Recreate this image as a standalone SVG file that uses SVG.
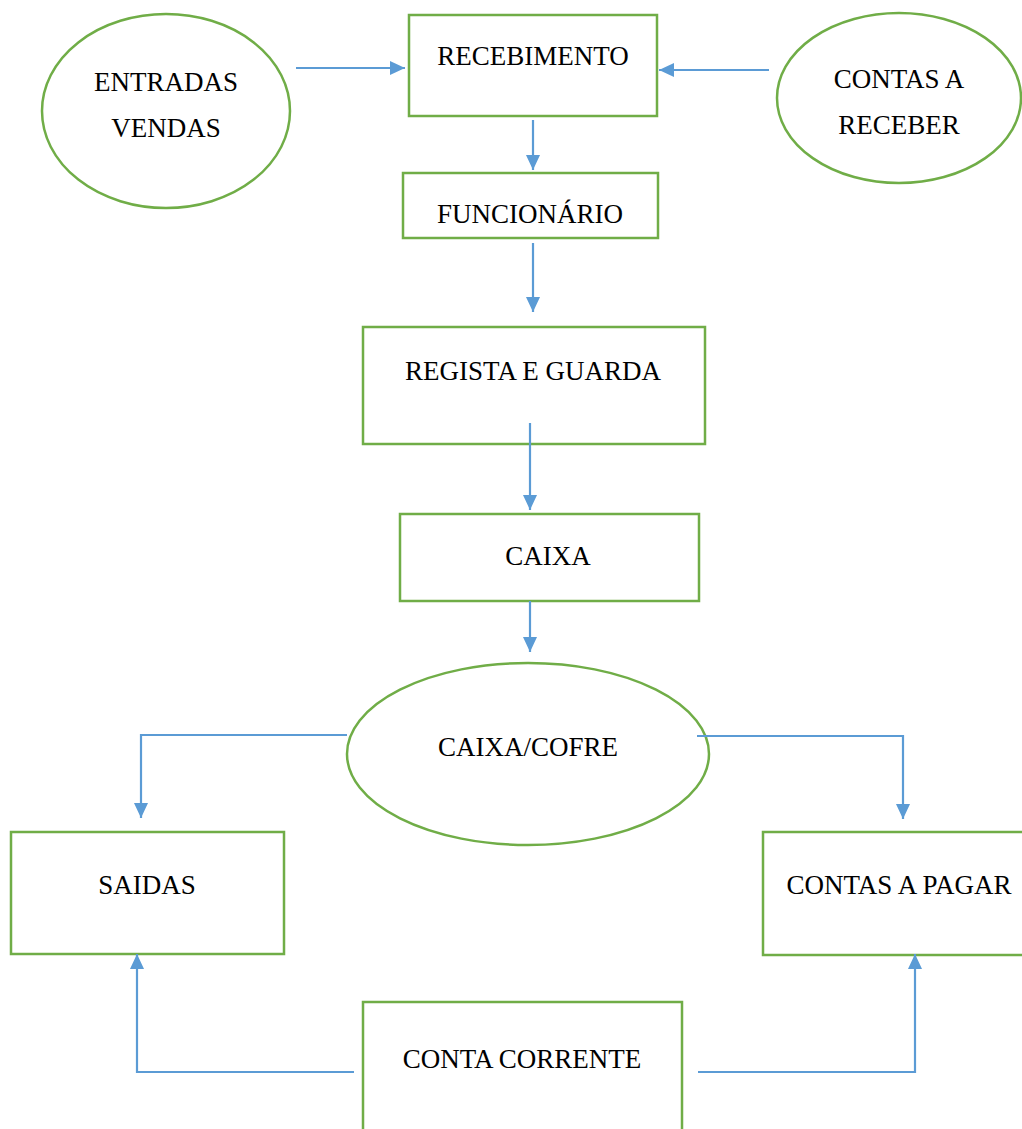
<svg xmlns="http://www.w3.org/2000/svg" width="1022" height="1129" viewBox="0 0 1022 1129">
  <style>
    .node { fill: #ffffff; stroke: #70AD47; stroke-width: 2.5; }
    .label { font-family: "Liberation Serif", "Times New Roman", serif; font-size: 27px; fill: #000000; text-anchor: middle; }
    .wire { fill: none; stroke: #5B9BD5; stroke-width: 2.2; marker-end: url(#head); }
  </style>
  <defs>
    <marker id="head" markerUnits="userSpaceOnUse" markerWidth="15" markerHeight="14" refX="15" refY="7" orient="auto">
      <path d="M0,0 L15,7 L0,14 Z" fill="#5B9BD5"/>
    </marker>
  </defs>
  <rect width="1022" height="1129" fill="#ffffff"/>

  <g id="entradas-vendas">
    <ellipse class="node" cx="166" cy="111" rx="124" ry="97"/>
    <text class="label" x="166" y="91">ENTRADAS</text>
    <text class="label" x="166" y="137">VENDAS</text>
  </g>

  <g id="contas-a-receber">
    <ellipse class="node" cx="899" cy="98" rx="122" ry="85"/>
    <text class="label" x="899" y="88">CONTAS A</text>
    <text class="label" x="899" y="134">RECEBER</text>
  </g>

  <g id="recebimento">
    <rect class="node" x="409" y="15" width="248" height="101"/>
    <text class="label" x="533" y="65">RECEBIMENTO</text>
  </g>

  <g id="funcionario">
    <rect class="node" x="403" y="173" width="255" height="65"/>
    <text class="label" x="530" y="223">FUNCIONÁRIO</text>
  </g>

  <g id="regista-e-guarda">
    <rect class="node" x="363" y="327" width="342" height="117"/>
    <text class="label" x="533" y="380">REGISTA E GUARDA</text>
  </g>

  <g id="caixa">
    <rect class="node" x="400" y="514" width="299" height="87"/>
    <text class="label" x="548" y="565">CAIXA</text>
  </g>

  <g id="caixa-cofre">
    <ellipse class="node" cx="528" cy="754" rx="181" ry="91"/>
    <text class="label" x="528" y="756">CAIXA/COFRE</text>
  </g>

  <g id="saidas">
    <rect class="node" x="11" y="832" width="273" height="122"/>
    <text class="label" x="147" y="894">SAIDAS</text>
  </g>

  <g id="contas-a-pagar">
    <rect class="node" x="763" y="832" width="262" height="123"/>
    <text class="label" x="899" y="894">CONTAS A PAGAR</text>
  </g>

  <g id="conta-corrente">
    <rect class="node" x="363" y="1002" width="319" height="140"/>
    <text class="label" x="522" y="1068">CONTA CORRENTE</text>
  </g>

  <g id="connectors">
    <path class="wire" d="M296,68 L405,68"/>
    <path class="wire" d="M769,70 L659,70"/>
    <path class="wire" d="M533,120 L533,170"/>
    <path class="wire" d="M533,243 L533,312"/>
    <path class="wire" d="M530,423 L530,510"/>
    <path class="wire" d="M530,601 L530,652"/>
    <path class="wire" d="M347,735 L141,735 L141,818"/>
    <path class="wire" d="M697,736 L903,736 L903,819"/>
    <path class="wire" d="M354,1072 L137,1072 L137,954"/>
    <path class="wire" d="M698,1072 L915,1072 L915,954"/>
  </g>
</svg>
